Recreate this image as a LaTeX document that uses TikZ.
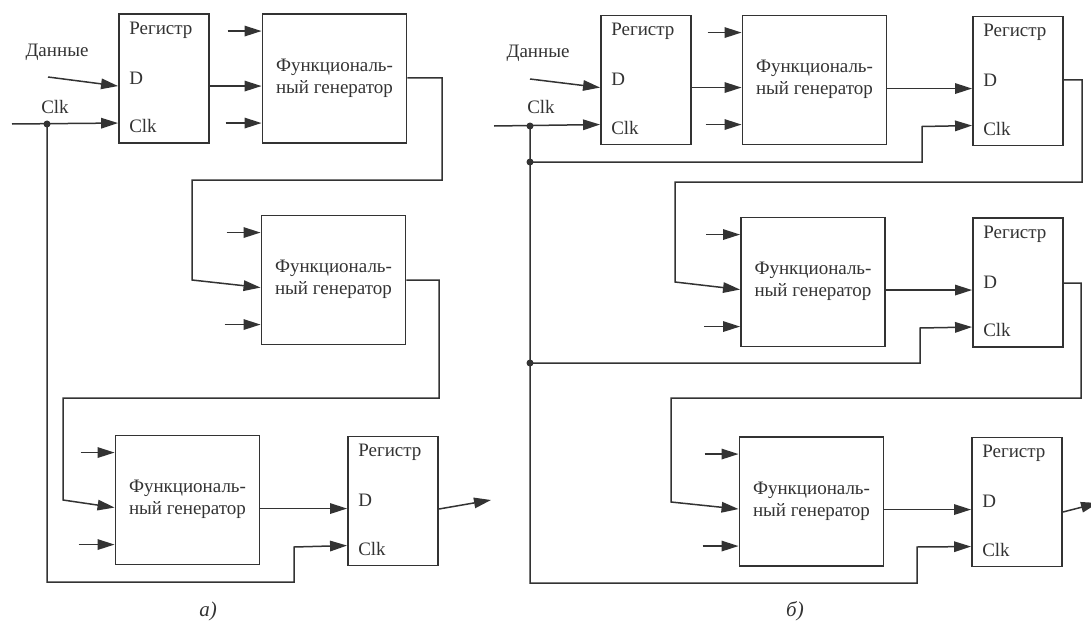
\documentclass[tikz,border=0pt]{standalone}
\usepackage{fontspec}
\setmainfont{Liberation Serif}
\usetikzlibrary{arrows.meta}
\definecolor{ink}{gray}{0.2}
\newcommand\myreg[3]{%
  \node[regbox] (#1) at (#2,#3) {};
  \node[pinlbl] (#1-t) at ([shift={(11pt,-17pt)}]#1.north west) {Регистр};
  \node[pinlbl] (#1-d) at ([shift={(11pt,-65pt)}]#1.north west) {D};
  \node[pinlbl] (#1-k) at ([shift={(11pt,-113pt)}]#1.north west) {Clk};
  \coordinate (#1-D) at ([yshift=-73pt]#1.north west);
  \coordinate (#1-C) at ([yshift=-110pt]#1.north west);
}
\newcommand\myfg[3]{%
  \node[fgbox] (#1) at (#2,#3) {};
  \node[fglbl] (#1-t) at ([yshift=-65pt]#1.north) {Функциональ-\\ный генератор};
  \coordinate (#1-a) at ([yshift=-18pt]#1.north west);
  \coordinate (#1-b) at ([yshift=-73pt]#1.north west);
  \coordinate (#1-c) at ([yshift=-110pt]#1.north west);
  \coordinate (#1-as) at ([xshift=-34pt]#1-a);
  \coordinate (#1-cs) at ([xshift=-36pt]#1-c);
  \draw[arr] (#1-as) -- (#1-a);
  \draw[arr] (#1-cs) -- (#1-c);
}
\begin{document}
\begin{tikzpicture}[x=1pt,y=-1pt,
  wire/.style={draw=ink, line width=1.5pt, line join=miter},
  arr/.style={wire, -{Triangle[length=17pt,width=10.5pt]}},
  box/.style={draw=ink, line width=1.9pt, inner sep=0pt, minimum height=129pt},
  regbox/.style={box, minimum width=90pt},
  fgbox/.style={box, minimum width=144pt},
  lbl/.style={text=ink, font=\fontsize{19}{22}\selectfont, inner sep=0pt},
  pinlbl/.style={lbl, anchor=west},
  fglbl/.style={lbl, align=center},
  captxt/.style={lbl, font=\fontsize{21}{24}\selectfont\itshape},
  dot/.style={circle, fill=ink, inner sep=0pt, minimum size=7pt},
]
\useasboundingbox[fill=white] (0,0) rectangle (1091,623);

% ---------------- panel a ----------------
\myreg{ra1}{164}{78.5}
\myfg{fa1}{334.5}{78.5}
\myfg{fa2}{333.5}{280}
\myfg{fa3}{187.5}{500}
\myreg{ra3}{393}{501}

\node[lbl] (dA) at (57,52) {Данные};
\coordinate (dAs) at (48,77);
\draw[arr] (dAs) -- (ra1-D);
\coordinate (ckA0) at (12,124);
\draw[arr] (ckA0) -- (ra1-C);
\node[dot] (jA) at (47,124) {};
\node[lbl] (ckAl) at (55,107) {Clk};
\draw[arr] (ra1.east |- ra1-D) -- (fa1-b);
\draw[arr] (fa1.east |- 0,78) -- (442,78) -- (442,180) -- (192,180) -- (192,280) -- (fa2-b);
\draw[arr] (fa2.east |- 0,280) -- (439,280) -- (439,398) -- (63,398) -- (63,500) -- (fa3-b);
\draw[arr] (fa3.east |- ra3-D) -- (ra3-D);
\draw[arr] (jA.center) -- (47,582) -- (294,582) -- (294,547) -- (ra3-C);
\coordinate (oA) at (491,500);
\draw[arr] (ra3.east |- 0,509) -- (oA);
\node[captxt] (capA) at (208,611) {а)};

% ---------------- panel b ----------------
\myreg{rb1}{646}{80}
\myfg{fb1}{814.5}{80}
\myreg{rb2}{1018}{81}
\myfg{fb2}{813}{282}
\myreg{rb3}{1018}{282.5}
\myfg{fb3}{811.5}{501.5}
\myreg{rb4}{1017}{502}

\node[lbl] (dB) at (538,53) {Данные};
\coordinate (dBs) at (530,79);
\draw[arr] (dBs) -- (rb1-D);
\coordinate (ckB0) at (494,126);
\draw[arr] (ckB0) -- (rb1-C);
\node[lbl] (ckBl) at (541,107) {Clk};
\node[dot] (jB1) at (530,126) {};
\node[dot] (jB2) at (530,162) {};
\node[dot] (jB3) at (530,363) {};
\draw[arr] (rb1.east |- rb1-D) -- (fb1-b);
\draw[arr] (fb1.east |- rb2-D) -- (rb2-D);
\draw[arr] (jB1.center) -- (530,583) -- (917,583) -- (917,547) -- (rb4-C);
\draw[arr] (jB2.center) -- (922,162) -- (922,126.5) -- (rb2-C);
\draw[arr] (jB3.center) -- (920,363) -- (920,328) -- (rb3-C);
\draw[arr] (rb2.east |- 0,80) -- (1082,80) -- (1082,182) -- (675,182) -- (675,282) -- (fb2-b);
\draw[arr] (fb2.east |- rb3-D) -- (rb3-D);
\draw[arr] (rb3.east |- 0,283) -- (1081,283) -- (1081,398) -- (671,398) -- (671,502) -- (fb3-b);
\draw[arr] (fb3.east |- rb4-D) -- (rb4-D);
\coordinate (oB) at (1098,503);
\draw[arr] (rb4.east |- 0,512) -- (oB);
\node[captxt] (capB) at (795,611) {б)};
\end{tikzpicture}
\end{document}
